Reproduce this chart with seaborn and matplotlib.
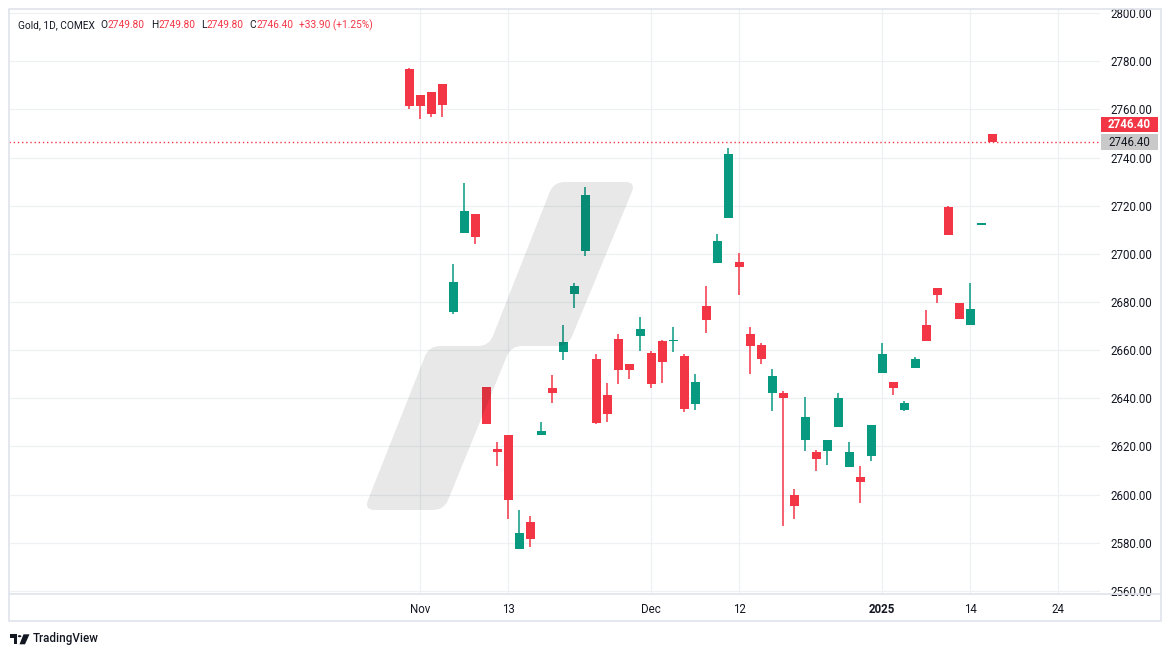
import numpy as np
import pandas as pd
import matplotlib
matplotlib.use("Agg")
import matplotlib.pyplot as plt
import seaborn as sns
from matplotlib.path import Path
from matplotlib.patches import PathPatch, Rectangle, Circle, Polygon

# ---------------- data ----------------
holidays = ["2024-12-25", "2025-01-01"]
dates = [d.strftime("%Y-%m-%d") for d in pd.bdate_range("2024-10-31", "2025-01-16")
         if d.strftime("%Y-%m-%d") not in holidays]

opens = [2776.7, 2765.8, 2767.1, 2770.4, 2676.0, 2708.5, 2716.7, 2644.6, 2618.8, 2624.6,
         2577.6, 2588.8, 2624.7, 2644.2, 2659.3, 2683.5, 2701.0, 2656.3, 2641.3, 2664.6,
         2654.2, 2666.0, 2658.8, 2663.8, 2663.6, 2657.5, 2637.5, 2678.3, 2696.0, 2714.7,
         2696.7, 2666.7, 2662.1, 2642.2, 2642.1, 2600.0, 2622.6, 2617.9, 2618.0, 2628.0,
         2611.4, 2607.5, 2616.0, 2650.6, 2646.7, 2635.1, 2652.6, 2670.4, 2685.8, 2719.6,
         2679.6, 2670.6, 2712.0, 2749.8]
highs = [2777.1, 2765.8, 2767.1, 2770.4, 2695.7, 2729.6, 2716.7, 2644.6, 2621.7, 2624.6,
         2593.8, 2591.3, 2630.0, 2649.6, 2670.4, 2687.9, 2727.9, 2658.3, 2646.3, 2666.7,
         2654.2, 2673.8, 2659.6, 2664.4, 2669.6, 2658.5, 2650.0, 2686.7, 2708.3, 2743.8,
         2700.4, 2669.6, 2662.9, 2652.1, 2642.9, 2602.5, 2640.4, 2618.5, 2622.5, 2642.1,
         2621.8, 2611.7, 2628.8, 2662.9, 2646.7, 2638.8, 2657.1, 2676.7, 2685.8, 2720.0,
         2679.6, 2687.9, 2712.0, 2749.8]
lows = [2760.0, 2755.8, 2756.8, 2756.8, 2674.9, 2708.5, 2703.9, 2629.3, 2611.8, 2590.1,
        2577.6, 2578.1, 2624.7, 2638.0, 2656.0, 2677.6, 2699.3, 2629.3, 2630.1, 2646.0,
        2648.0, 2659.7, 2644.3, 2646.4, 2659.3, 2634.3, 2635.1, 2667.1, 2696.0, 2714.7,
        2683.0, 2650.1, 2654.3, 2634.7, 2586.8, 2589.7, 2618.1, 2609.7, 2612.2, 2628.0,
        2611.4, 2596.4, 2613.9, 2650.6, 2641.4, 2634.7, 2652.6, 2663.9, 2679.7, 2708.0,
        2673.0, 2670.6, 2712.0, 2746.4]
closes = [2761.4, 2761.4, 2758.1, 2761.8, 2688.3, 2717.9, 2706.8, 2629.3, 2617.6, 2597.6,
          2584.2, 2581.4, 2626.3, 2642.2, 2663.3, 2686.7, 2724.6, 2629.7, 2633.5, 2651.8,
          2651.8, 2668.8, 2646.0, 2655.1, 2663.6, 2635.5, 2646.7, 2672.6, 2705.4, 2741.3,
          2694.7, 2661.8, 2656.4, 2649.2, 2640.1, 2595.1, 2632.1, 2614.7, 2622.5, 2640.0,
          2617.9, 2605.1, 2628.8, 2658.3, 2644.3, 2637.9, 2656.3, 2663.9, 2683.0, 2708.0,
          2673.0, 2677.1, 2712.0, 2746.4]

tick_dates = ["2024-11-01", "2024-11-13", "2024-12-02", "2024-12-12",
              "2025-01-02", "2025-01-14", "2025-01-24"]
tick_labels = ["Nov", "13", "Dec", "12", "2025", "14", "24"]
y_ticks = [2560, 2580, 2600, 2620, 2640, 2660, 2680, 2700, 2720, 2740, 2760, 2780, 2800]

header_name = "Gold, 1D, COMEX"
header_ohlc = [("O", "2749.80"), ("H", "2749.80"), ("L", "2749.80"), ("C", "2746.40")]
header_change = "+33.90 (+1.25%)"
last_price = 2746.40

# ---------------- style ----------------
sns.set_theme(style="white")
plt.rcParams["font.family"] = ["Roboto", "DejaVu Sans"]

GREEN = "#089981"
RED = "#F23645"
DARK = "#131722"
GRID = "#EEF0F3"
BORDER = "#E0E3EB"

W, H = 1171, 657
fig = plt.figure(figsize=(W / 100, H / 100), dpi=100)
fig.patch.set_facecolor("white")

# main pane (pixel geometry)
L_PX, R_PX, T_PX, B_PX = 9, 1100, 9, 594
ax = fig.add_axes([L_PX / W, 1 - B_PX / H, (R_PX - L_PX) / W, (B_PX - T_PX) / H])
ax.set_facecolor("white")

sessions = [d.strftime("%Y-%m-%d") for d in pd.bdate_range("2024-09-01", "2025-03-31")
            if d.strftime("%Y-%m-%d") not in holidays]
pos = {d: i for i, d in enumerate(sessions)}

df = pd.DataFrame({"date": dates, "open": opens, "high": highs, "low": lows, "close": closes})
df["x"] = df["date"].map(pos)
df["up"] = df["close"] >= df["open"]
df["color"] = np.where(df["up"], GREEN, RED)
df["bottom"] = df[["open", "close"]].min(axis=1)
df["height"] = (df["close"] - df["open"]).abs().clip(lower=0.6)

# wicks
ax.vlines(df["x"], df["low"], df["high"], colors=df["color"], linewidth=1.1, zorder=3)
# bodies
ax.bar(df["x"], df["height"], bottom=df["bottom"], width=0.82, color=df["color"],
       linewidth=0, zorder=4)

# axes limits
x0 = pos["2024-11-01"]
px_per = 11.0
ax.set_xlim(x0 + (L_PX - 420.3) / px_per, x0 + (R_PX - 420.3) / px_per)
ax.set_ylim(2560 - 3 / 2.408, 2800 + 4 / 2.408)

# grid
ax.set_yticks(y_ticks)
ax.set_xticks([pos[d] for d in tick_dates])
ax.grid(True, color=GRID, linewidth=0.9, zorder=0)
ax.set_axisbelow(True)

ax.yaxis.tick_right()
ax.set_yticklabels([f"{v:.2f}" for v in y_ticks])
ax.tick_params(axis="y", length=0, pad=7.5, labelsize=8.3, labelcolor=DARK)
ax.set_xticklabels(tick_labels)
ax.tick_params(axis="x", length=0, pad=6.5, labelsize=8.3, labelcolor=DARK)
for lbl in ax.get_yticklabels():
    lbl.set_horizontalalignment("left")
for lbl in ax.get_xticklabels():
    if lbl.get_text() == "2025":
        lbl.set_fontweight("bold")
for s in ax.spines.values():
    s.set_visible(False)

# current price line
ax.axhline(last_price, color=RED, linewidth=1.0, linestyle=(0, (1, 2)), zorder=2)

# frame lines (figure pixel coords)
def fx(x):
    return x / W

def fy(y):
    return 1 - y / H

fig.add_artist(Rectangle((fx(9), fy(621)), fx(1161) - fx(9), fy(9) - fy(621),
                         transform=fig.transFigure, fill=False, edgecolor=BORDER, linewidth=1.2))
fig.add_artist(plt.Line2D([fx(9), fx(1161)], [fy(594), fy(594)], transform=fig.transFigure,
                          color=BORDER, linewidth=1.2))

# price labels
fig.canvas.draw()
y_disp = ax.transData.transform((0, last_price))[1]
y_top = H - y_disp
bx0, bx1 = 1100.7, 1157.7
fig.add_artist(Rectangle((fx(bx0), fy(y_top + 8)), fx(bx1) - fx(bx0), 16 / H,
                         transform=fig.transFigure, facecolor="#C9C9C9", edgecolor="none", zorder=5))
fig.text(fx((bx0 + bx1) / 2), fy(y_top), f"{last_price:.2f}", ha="center", va="center",
         fontsize=8.3, color=DARK, zorder=6)
ry = y_top - 18
fig.add_artist(Rectangle((fx(bx0), fy(ry + 7.5)), fx(bx1) - fx(bx0), 15 / H,
                         transform=fig.transFigure, facecolor=RED, edgecolor="none", zorder=5))
fig.text(fx((bx0 + bx1) / 2), fy(ry), f"{last_price:.2f}", ha="center", va="center",
         fontsize=8.3, color="white", fontweight="bold", zorder=6)

# watermark (rounded polygon)
def rounded_path(pts, r):
    pts = [np.array(p, dtype=float) for p in pts]
    n = len(pts)
    verts, codes = [], []
    for i in range(n):
        p0, p1, p2 = pts[i - 1], pts[i], pts[(i + 1) % n]
        d1 = p0 - p1
        d2 = p2 - p1
        l1, l2 = np.hypot(*d1), np.hypot(*d2)
        rr = min(r, l1 / 2, l2 / 2)
        a = p1 + d1 / l1 * rr
        b = p1 + d2 / l2 * rr
        verts.append(a)
        codes.append(Path.MOVETO if i == 0 else Path.LINETO)
        verts += [p1, b]
        codes += [Path.CURVE3, Path.CURVE3]
    verts.append(verts[0])
    codes.append(Path.CLOSEPOLY)
    verts = [(fx(v[0]), fy(v[1])) for v in verts]
    return Path(verts, codes)

wm_pts = [(553.6, 182), (636, 182), (568, 346), (511, 346), (444, 510),
          (364, 510), (429, 346), (489, 346)]
fig.add_artist(PathPatch(rounded_path(wm_pts, 11), transform=fig.transFigure,
                         facecolor=(0, 0, 0, 0.09), edgecolor="none", zorder=2))

# header text
renderer = fig.canvas.get_renderer()
hx = 18.0
hy = 25.5
HFS = 7.3
def put(txt, color, gap=0.0):
    global hx
    hx += gap
    t = fig.text(fx(hx), fy(hy), txt, ha="left", va="center", fontsize=HFS, color=color)
    bb = t.get_window_extent(renderer=renderer)
    hx += bb.width
    return t

put(header_name, DARK)
for letter, val in header_ohlc:
    put(letter, DARK, gap=6)
    put(val, RED)
put(header_change, RED, gap=6)

# TradingView logo bottom left
fig.add_artist(Polygon([(fx(10), fy(634.3)), (fx(17.3), fy(634.3)), (fx(17.3), fy(644.3)),
                        (fx(13.7), fy(644.3)), (fx(13.7), fy(637.7)), (fx(10), fy(637.7))],
                       closed=True, transform=fig.transFigure, facecolor=DARK, edgecolor="none"))
fig.add_artist(Circle((fx(19.6), fy(636.2)), 1.8 / W, transform=fig.transFigure,
                      facecolor=DARK, edgecolor="none"))
fig.add_artist(Polygon([(fx(23.5), fy(634.3)), (fx(29.5), fy(634.3)), (fx(25), fy(644.3)),
                        (fx(19.5), fy(644.3))],
                       closed=True, transform=fig.transFigure, facecolor=DARK, edgecolor="none"))
fig.text(fx(32.5), fy(638.8), "TradingView", ha="left", va="center", fontsize=8.4,
         color=DARK, fontweight="medium")

fig.savefig("out.png", dpi=100, facecolor="white")
